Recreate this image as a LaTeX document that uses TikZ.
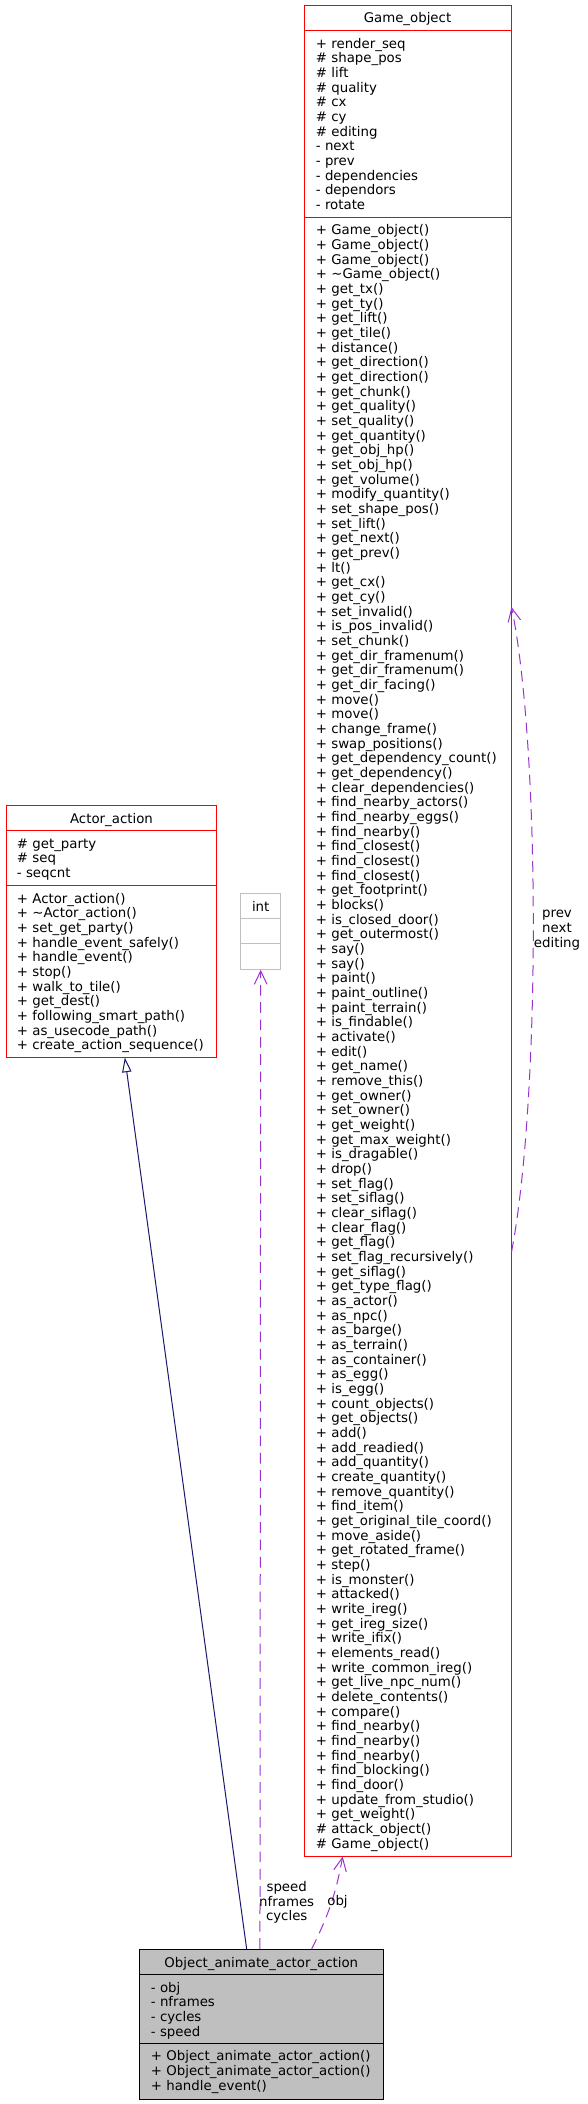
\documentclass[tikz,border=0pt]{standalone}
\usepackage{fontspec}
\setmainfont{DejaVu Sans}
\usetikzlibrary{arrows.meta,positioning}
\definecolor{edgeblue}{HTML}{191970}
\definecolor{edgepurple}{HTML}{9A32CD}
\definecolor{boxgray}{HTML}{BFBFBF}
\tikzset{>=Stealth}

\begin{document}
\begin{tikzpicture}[x=0.75pt, y=-0.75pt,
    cls/.style={draw, line width=0.75pt, inner sep=0pt},
    member/.style={anchor=base west, inner sep=0pt, font=\fontsize{10}{11}\selectfont},
    title/.style={anchor=base, inner sep=0pt, font=\fontsize{10}{11}\selectfont},
    lbl/.style={align=center, inner sep=0pt, font=\fontsize{10}{11}\selectfont},
    inherit/.style={draw=edgeblue, line width=0.75pt, -{Triangle[open, length=11pt, width=7pt]}},
    usage/.style={draw=edgepurple, line width=0.75pt, dash pattern=on 8pt off 5pt, -{Straight Barb[length=10pt, width=9.5pt]}}
  ]
    \useasboundingbox (0,0) rectangle (587,2104);

    % class boxes
    \node[cls, draw=red, minimum width=155.25pt, minimum height=1388pt] (go) at (407.5,930.7) {};
    \node[cls, draw=red, minimum width=157.8pt, minimum height=188.8pt] (aa) at (111.5,931.2) {};
    \node[cls, draw=boxgray, minimum width=30pt, minimum height=57pt] (int) at (260.7,931.3) {};
    \node[cls, draw=black, fill=boxgray, minimum width=183pt, minimum height=112.3pt] (oaa) at (261.3,2024.2) {};

    % compartments
    \draw[red, line width=0.75pt] ([yshift=-19.5pt]go.north west) -- ([yshift=-19.5pt]go.north east);
    \draw[red, line width=0.75pt] ([yshift=-159.3pt]go.north west) -- ([yshift=-159.3pt]go.north east);
    \draw[red, line width=0.75pt] ([yshift=-19.5pt]aa.north west) -- ([yshift=-19.5pt]aa.north east);
    \draw[red, line width=0.75pt] ([yshift=-60.3pt]aa.north west) -- ([yshift=-60.3pt]aa.north east);
    \draw[boxgray, line width=0.75pt] ([yshift=-19.5pt]int.north west) -- ([yshift=-19.5pt]int.north east);
    \draw[boxgray, line width=0.75pt] ([yshift=-38.25pt]int.north west) -- ([yshift=-38.25pt]int.north east);
    \draw[black, line width=0.75pt] ([yshift=-19.5pt]oaa.north west) -- ([yshift=-19.5pt]oaa.north east);
    \draw[black, line width=0.75pt] ([yshift=-71.25pt]oaa.north west) -- ([yshift=-71.25pt]oaa.north east);

    % Game_object
    \node[title] (go-t) at (407.5,23) {Game\_object};
    \foreach \m [count=\i from 0] in {+ render\_seq, \# shape\_pos, \# lift, \# quality, \# cx, \# cy, \# editing, - next, - prev, - dependencies, - dependors, - rotate}
      \node[member] (go-a\i) at (315.7,48.3+\i*14.64) {\m};
    \foreach \m [count=\i from 0] in {+ Game\_object(), + Game\_object(), + Game\_object(), + \textasciitilde Game\_object(), + get\_tx(), + get\_ty(), + get\_lift(), + get\_tile(), + distance(), + get\_direction(), + get\_direction(), + get\_chunk(), + get\_quality(), + set\_quality(), + get\_quantity(), + get\_obj\_hp(), + set\_obj\_hp(), + get\_volume(), + modify\_quantity(), + set\_shape\_pos(), + set\_lift(), + get\_next(), + get\_prev(), + lt(), + get\_cx(), + get\_cy(), + set\_invalid(), + is\_pos\_invalid(), + set\_chunk(), + get\_dir\_framenum(), + get\_dir\_framenum(), + get\_dir\_facing(), + move(), + move(), + change\_frame(), + swap\_positions(), + get\_dependency\_count(), + get\_dependency(), + clear\_dependencies(), + find\_nearby\_actors(), + find\_nearby\_eggs(), + find\_nearby(), + find\_closest(), + find\_closest(), + find\_closest(), + get\_footprint(), + blocks(), + is\_closed\_door(), + get\_outermost(), + say(), + say(), + paint(), + paint\_outline(), + paint\_terrain(), + is\_findable(), + activate(), + edit(), + get\_name(), + remove\_this(), + get\_owner(), + set\_owner(), + get\_weight(), + get\_max\_weight(), + is\_dragable(), + drop(), + set\_flag(), + set\_siflag(), + clear\_siflag(), + clear\_flag(), + get\_flag(), + set\_flag\_recursively(), + get\_siflag(), + get\_type\_flag(), + as\_actor(), + as\_npc(), + as\_barge(), + as\_terrain(), + as\_container(), + as\_egg(), + is\_egg(), + count\_objects(), + get\_objects(), + add(), + add\_readied(), + add\_quantity(), + create\_quantity(), + remove\_quantity(), + find\_item(), + get\_original\_tile\_coord(), + move\_aside(), + get\_rotated\_frame(), + step(), + is\_monster(), + attacked(), + write\_ireg(), + get\_ireg\_size(), + write\_ifix(), + elements\_read(), + write\_common\_ireg(), + get\_live\_npc\_num(), + delete\_contents(), + compare(), + find\_nearby(), + find\_nearby(), + find\_nearby(), + find\_blocking(), + find\_door(), + update\_from\_studio(), + get\_weight(), \# attack\_object(), \# Game\_object()}
      \node[member] (go-m\i) at (315.7,235+\i*14.666) {\m};

    % Actor_action
    \node[title] (aa-t) at (111.5,823) {Actor\_action};
    \foreach \m [count=\i from 0] in {\# get\_party, \# seq, - seqcnt}
      \node[member] (aa-a\i) at (16.7,848.3+\i*14.64) {\m};
    \foreach \m [count=\i from 0] in {+ Actor\_action(), + \textasciitilde Actor\_action(), + set\_get\_party(), + handle\_event\_safely(), + handle\_event(), + stop(), + walk\_to\_tile(), + get\_dest(), + following\_smart\_path(), + as\_usecode\_path(), + create\_action\_sequence()}
      \node[member] (aa-m\i) at (16.7,903.3+\i*14.64) {\m};

    % int
    \node[title] (int-t) at (260.7,911) {int};

    % Object_animate_actor_action
    \node[title] (oaa-t) at (261.3,1967) {Object\_animate\_actor\_action};
    \foreach \m [count=\i from 0] in {- obj, - nframes, - cycles, - speed}
      \node[member] (oaa-a\i) at (150.7,1992.3+\i*14.64) {\m};
    \foreach \m [count=\i from 0] in {+ Object\_animate\_actor\_action(), + Object\_animate\_actor\_action(), + handle\_event()}
      \node[member] (oaa-m\i) at (150.7,2060.7+\i*14.64) {\m};

    % relations
    \draw[inherit] ([xshift=-11pt]oaa.north) -- ([xshift=10pt]aa.south);
    \draw[usage] ([xshift=-1pt]oaa.north) -- (int.south);
    \draw[usage] ([xshift=37.8pt]oaa.north) to[bend right=8] ([xshift=-48.6pt]go.south);
    \draw[usage] ([yshift=-241pt]go.east) .. controls +(29,-152) and +(29,143) .. ([yshift=242.8pt]go.east);

    \node[lbl] (l-int) at (286.7,1902.3) {speed\\nframes\\cycles};
    \node[lbl] (l-obj) at (337.5,1902) {obj};
    \node[lbl] (l-self) at (557,930.3) {prev\\next\\editing};
  \end{tikzpicture}
\end{document}
